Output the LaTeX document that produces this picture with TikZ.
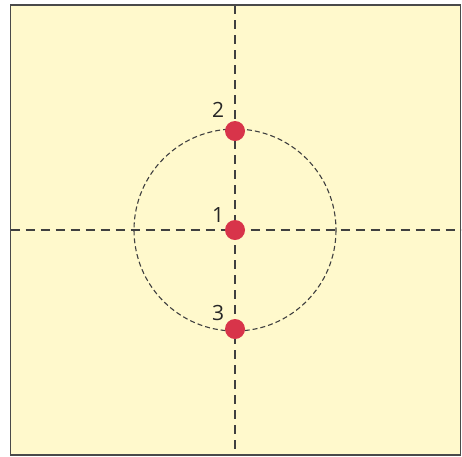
\documentclass[tikz,border=0pt]{standalone}
\usepackage{fontspec}
\setmainfont{Open Sans}
\definecolor{bgyellow}{HTML}{FFF9CC}
\definecolor{framegray}{HTML}{4A4A4A}
\definecolor{dotred}{HTML}{D8344A}
\definecolor{dashgray}{HTML}{404040}
\begin{document}
\begin{tikzpicture}[x=1pt,y=-1pt,
  axis/.style={draw=dashgray,line width=1.2pt,dash pattern=on 9pt off 6pt},
  ring/.style={draw=dashgray,line width=1.1pt,dash pattern=on 5pt off 3pt},
  dot/.style={circle,fill=dotred,minimum size=20pt,inner sep=0pt},
  lbl/.style={font=\fontsize{21}{23}\selectfont,text=black!85,inner sep=0pt}]
\useasboundingbox (0,0) rectangle (462,456);
\fill[bgyellow] (10.5,5) rectangle (460.5,455);
\coordinate (L) at (10.5,230);
\coordinate (R) at (460.5,230);
\coordinate (T) at (235,5);
\coordinate (B) at (235,455);
\draw[axis] (L) -- (R);
\draw[axis] (T) -- (B);
\draw[ring] (235,230) circle (101);
\draw[framegray,line width=1.6pt] (10.5,5) rectangle (460.5,455);
\node[dot] (p1) at (235,230) {};
\node[dot] (p2) at (235,131) {};
\node[dot] (p3) at (235,329) {};
\node[lbl] (l2) at (218,110) {2};
\node[lbl] (l1) at (218,215) {1};
\node[lbl] (l3) at (218,313) {3};
\end{tikzpicture}
\end{document}
